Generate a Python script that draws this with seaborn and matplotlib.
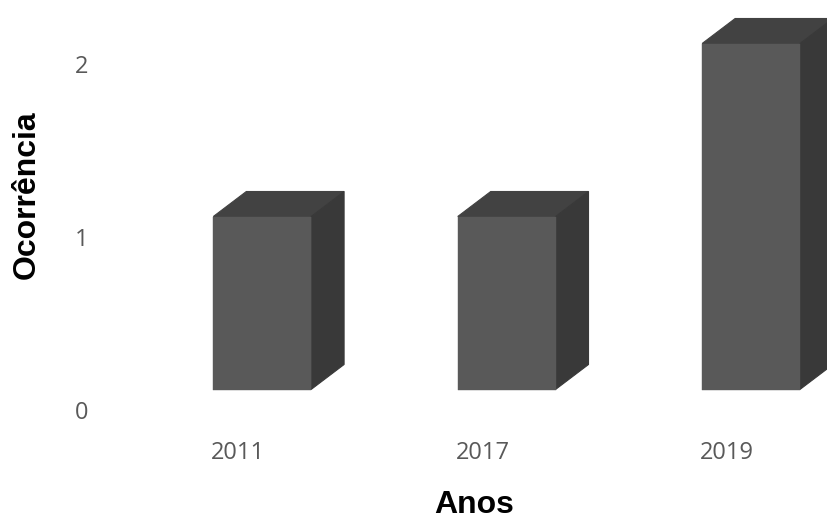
import matplotlib
matplotlib.use("Agg")
import matplotlib.pyplot as plt
from matplotlib.patches import Polygon
from matplotlib.transforms import ScaledTranslation
import seaborn as sns
import pandas as pd

anos = ["2011", "2017", "2019"]
ocorrencia = [1, 1, 2]
yticks = [0, 1, 2]

df = pd.DataFrame({"Anos": anos, "Ocorrência": ocorrencia})

sns.set_theme(style="white")
plt.rcParams["font.family"] = ["Open Sans", "DejaVu Sans"]

W, H, DPI = 827, 520, 100
fig = plt.figure(figsize=(W / DPI, H / DPI), dpi=DPI)
ax_left, ax_bottom, ax_top = 116, 410, 10
ax = fig.add_axes([ax_left / W, (H - ax_bottom) / H, (W - ax_left) / W, (ax_bottom - ax_top) / H])

sns.barplot(data=df, x="Anos", y="Ocorrência", color="#595959", width=0.40,
            saturation=1, linewidth=0, ax=ax, zorder=3)

ax.set_xlim(-0.5, (W - 238) / 244.5)
ax.set_ylim(0, (ax_bottom - ax_top) / 173.0)

# front face shift (floor offset) and depth, in pixels
shift_x, shift_y = 24, 20.5
depth_x, depth_y = 33, 25
off = ScaledTranslation(shift_x / DPI, shift_y / DPI, fig.dpi_scale_trans)
trans = ax.transData + off

p0 = ax.transData.transform([(0, 0)])[0]
p1 = ax.transData.transform([(1, 1)])[0]
ddx = depth_x / (p1[0] - p0[0])
ddy = depth_y / (p1[1] - p0[1])

for p in ax.patches:
    p.set_transform(trans)
    p.set_clip_on(False)
    p.set_edgecolor("#595959")
    p.set_linewidth(0.3)
    x0 = p.get_x()
    x1 = x0 + p.get_width()
    y0 = p.get_y()
    y1 = y0 + p.get_height()
    top = Polygon([(x0, y1), (x1, y1), (x1 + ddx, y1 + ddy), (x0 + ddx, y1 + ddy)],
                  closed=True, facecolor="#424242", edgecolor="#424242", linewidth=0.8,
                  transform=trans, clip_on=False, zorder=2)
    side = Polygon([(x1, y0), (x1 + ddx, y0 + ddy), (x1 + ddx, y1 + ddy), (x1, y1)],
                   closed=True, facecolor="#393939", edgecolor="#393939", linewidth=0.8,
                   transform=trans, clip_on=False, zorder=2.5)
    ax.add_patch(top)
    ax.add_patch(side)

for s in ax.spines.values():
    s.set_visible(False)
ax.set_yticks(yticks)
ax.set_yticklabels([str(v) for v in yticks])
ax.tick_params(axis="y", length=0, pad=20, labelsize=17, labelcolor="#595959")
ax.tick_params(axis="x", length=0, pad=22, labelsize=17, labelcolor="#595959")
ax.grid(False)
ax.set_xlabel("")
ax.set_ylabel("")

fig.text(474 / W, 1 - 505 / H, "Anos", ha="center", va="center", fontsize=23,
         fontweight="bold", family=["Liberation Sans", "DejaVu Sans"], color="black")
fig.text(27 / W, 1 - 195 / H, "Ocorrência", ha="center", va="center", rotation=90,
         fontsize=23, fontweight="bold", family=["Liberation Sans", "DejaVu Sans"], color="black")

fig.savefig("out.png", dpi=DPI)
